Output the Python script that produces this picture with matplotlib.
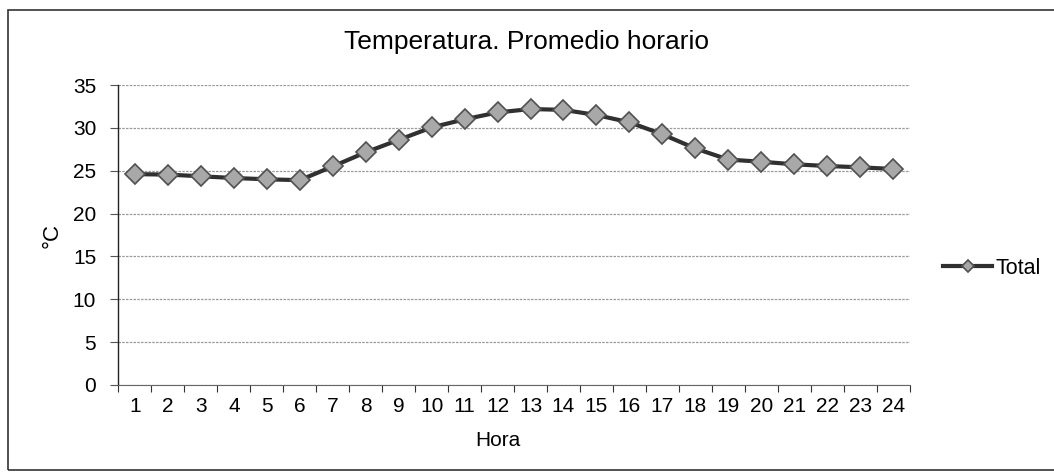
import matplotlib
matplotlib.use("Agg")
import matplotlib.pyplot as plt
from matplotlib.patches import Rectangle
from matplotlib.ticker import MultipleLocator, FixedLocator

plt.rcParams['font.family'] = ['Liberation Sans', 'DejaVu Sans']

horas = [str(h) for h in range(1, 25)]
temperatura = [24.6, 24.55, 24.35, 24.15, 24.0, 23.9, 25.5, 27.15, 28.6, 30.05,
               31.0, 31.8, 32.2, 32.1, 31.5, 30.65, 29.25, 27.6, 26.3, 26.05,
               25.75, 25.55, 25.4, 25.2]
titulo = "Temperatura. Promedio horario"
serie = "Total"

fig = plt.figure(figsize=(10.54, 4.75), dpi=100)
ax = fig.add_axes([0.1124, 0.1895, 0.7506, 0.6315])

x = list(range(len(horas)))
ax.plot(x, temperatura, color='#303030', lw=3, marker='D', markersize=10,
        markerfacecolor='#a8a8a8', markeredgecolor='#505050', markeredgewidth=1.2,
        label=serie, zorder=3)

ax.set_xlim(-0.5, len(horas) - 0.5)
ax.set_ylim(0, 35)
ax.yaxis.set_major_locator(MultipleLocator(5))
ax.set_xticks(x)
ax.set_xticklabels(horas)
ax.xaxis.set_minor_locator(FixedLocator([i - 0.5 for i in range(len(horas) + 1)]))
ax.tick_params(axis='x', which='major', length=0, labelsize=15, pad=9)
ax.tick_params(axis='x', which='minor', length=5, width=0.8, direction='out', color='#333333')
ax.tick_params(axis='y', which='major', length=6, width=0.8, direction='out',
               labelsize=15, pad=10, color='#555555')

ax.yaxis.grid(True, color='#9a9a9a', lw=0.9, ls=(0, (2, 1)))
ax.set_axisbelow(True)
for s in ['top', 'right']:
    ax.spines[s].set_visible(False)
ax.spines['left'].set_color('#222222')
ax.spines['bottom'].set_color('#666666')
ax.spines['bottom'].set_linestyle((0, (2, 1)))
ax.spines['left'].set_linewidth(1.0)

ax.set_xlabel("Hora", fontsize=15)
ax.xaxis.set_label_coords(0.48, -0.155)
ax.set_ylabel("°C", fontsize=16)
ax.yaxis.set_label_coords(-0.07, 0.5)
fig.text(0.5, 0.912, titulo, ha='center', va='center', fontsize=19)

leg = ax.legend(loc='center left', bbox_to_anchor=(1.042, 0.39), frameon=False,
                fontsize=15.5, handlelength=2.3, handletextpad=0.15, markerscale=0.6,
                borderaxespad=0, borderpad=0)

fig.patches.append(Rectangle((0.0076, 0.0105), 0.995, 0.968, transform=fig.transFigure,
                             fill=False, edgecolor='#333333', lw=1.2))

fig.savefig("out.png", dpi=100, facecolor='white')
